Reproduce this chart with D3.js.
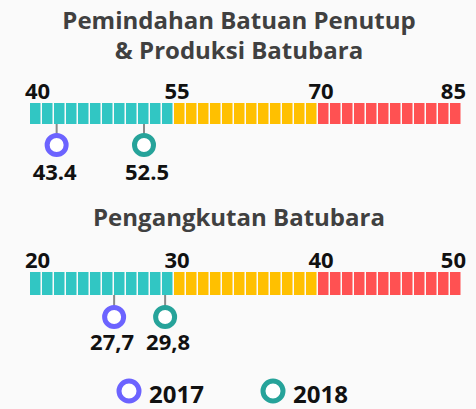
<!DOCTYPE html>
<html>
<head>
<meta charset="utf-8">
<script src="https://cdn.jsdelivr.net/npm/d3@7"></script>
<style>
  html, body { margin: 0; padding: 0; background: #fafafa; }
  text { font-family: "Open Sans", "Noto Sans", sans-serif; font-weight: 700; }
</style>
</head>
<body>
<svg id="chart"></svg>
<script>
var width = 476;
var height = 409;

// data
var years = ["2017", "2018"];
var yearColors = ["#6c63ff", "#26a39a"];
var bandColors = ["#31c6c3", "#ffc000", "#ff5152"];

var title1 = ["Pemindahan Batuan Penutup", "& Produksi Batubara"];
var ticks1 = [40, 55, 70, 85];
var values1 = [43.4, 52.5];
var labels1 = ["43.4", "52.5"];

var title2 = ["Pengangkutan Batubara"];
var ticks2 = [20, 30, 40, 50];
var values2 = [27.7, 29.8];
var labels2 = ["27,7", "29,8"];

var svg = d3.select("#chart")
    .attr("width", width)
    .attr("height", height);

var cellsPerBand = 12;

function gauge(opts) {
    var g = svg.append("g");

    var x = d3.scaleLinear()
        .domain([opts.ticks[0], opts.ticks[opts.ticks.length - 1]])
        .range([30, 462]);

    // title
    g.selectAll("text.title")
        .data(opts.title)
        .enter().append("text")
        .attr("class", "title")
        .attr("x", 239)
        .attr("y", function(d, i) { return opts.titleY + i * 30; })
        .attr("text-anchor", "middle")
        .attr("fill", "#404040")
        .style("font-size", "24px")
        .text(function(d) { return d; });

    // cells
    var cells = [];
    for (var b = 0; b < opts.ticks.length - 1; b++) {
        var step = (opts.ticks[b + 1] - opts.ticks[b]) / cellsPerBand;
        for (var c = 0; c < cellsPerBand; c++) {
            cells.push({ band: b, v0: opts.ticks[b] + c * step, v1: opts.ticks[b] + (c + 1) * step });
        }
    }

    g.selectAll("rect.cell")
        .data(cells)
        .enter().append("rect")
        .attr("class", "cell")
        .attr("x", function(d) { return x(d.v0); })
        .attr("y", opts.barY)
        .attr("width", function(d) { return x(d.v1) - x(d.v0) - 1.5; })
        .attr("height", opts.barH)
        .attr("fill", function(d) { return bandColors[d.band]; });

    // tick labels
    var last = opts.ticks.length - 1;
    g.selectAll("text.tick")
        .data(opts.ticks)
        .enter().append("text")
        .attr("class", "tick")
        .attr("x", function(d, i) {
            if (i === 0) return x(d) - 5;
            if (i === last) return x(d) + 4;
            return x(d) + 3;
        })
        .attr("y", opts.barY - 4)
        .attr("text-anchor", function(d, i) {
            return i === 0 ? "start" : (i === last ? "end" : "middle");
        })
        .attr("fill", "#111")
        .style("font-size", "22px")
        .text(function(d) { return d; });

    // marker positions, pushed apart so labels don't collide
    var pos = opts.values.map(function(v) { return x(v); });
    var minGap = 51;
    for (var i = pos.length - 2; i >= 0; i--) {
        if (pos[i + 1] - pos[i] < minGap) pos[i] = pos[i + 1] - minGap;
    }
    var marks = opts.values.map(function(v, i) {
        return { value: v, label: opts.labels[i], x: pos[i] - 6, color: yearColors[i] };
    });

    var m = g.selectAll("g.marker")
        .data(marks)
        .enter().append("g")
        .attr("class", "marker");

    m.append("line")
        .attr("x1", function(d) { return d.x; })
        .attr("x2", function(d) { return d.x; })
        .attr("y1", opts.barY + opts.barH)
        .attr("y2", opts.markY - 10)
        .attr("stroke", "#8a8a8a")
        .attr("stroke-width", 2);

    m.append("circle")
        .attr("cx", function(d) { return d.x; })
        .attr("cy", opts.markY)
        .attr("r", 9.5)
        .attr("fill", "#fff")
        .attr("stroke", function(d) { return d.color; })
        .attr("stroke-width", 5);

    m.append("text")
        .attr("x", function(d, i) { return d.x + (i === 0 ? -2 : 3); })
        .attr("y", opts.markY + opts.labelDy)
        .attr("text-anchor", "middle")
        .attr("fill", "#111")
        .style("font-size", "22px")
        .text(function(d) { return d.label; });
}

gauge({ title: title1, titleY: 29, ticks: ticks1, values: values1, labels: labels1,
        barY: 103, barH: 21, markY: 145, labelDy: 35 });
gauge({ title: title2, titleY: 226, ticks: ticks2, values: values2, labels: labels2,
        barY: 272, barH: 23, markY: 317, labelDy: 33 });

// legend
var legend = svg.append("g");
var legendX = d3.scaleOrdinal().domain(years).range([129, 273]);

var item = legend.selectAll("g")
    .data(years)
    .enter().append("g");

item.append("circle")
    .attr("cx", function(d) { return legendX(d); })
    .attr("cy", 391)
    .attr("r", 10)
    .attr("fill", "#fff")
    .attr("stroke", function(d, i) { return yearColors[i]; })
    .attr("stroke-width", 5);

item.append("text")
    .attr("x", function(d) { return legendX(d) + 20; })
    .attr("y", 403)
    .attr("fill", "#111")
    .style("font-size", "24px")
    .text(function(d) { return d; });
</script>
</body>
</html>
